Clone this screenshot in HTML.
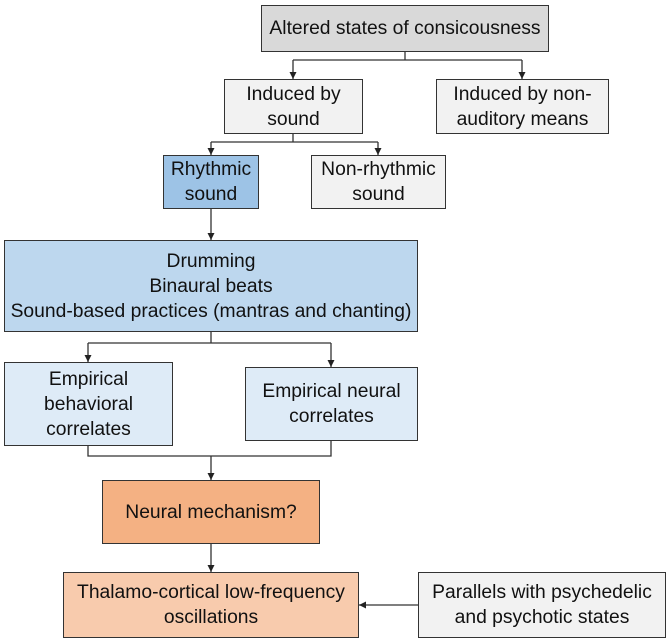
<!DOCTYPE html>
<html><head><meta charset="utf-8"><style>
body{margin:0;width:667px;height:643px;background:#fff;position:relative;overflow:hidden;font-family:"Liberation Sans",sans-serif;}
.b{position:absolute;box-sizing:border-box;border:1.5px solid #333;display:flex;align-items:center;justify-content:center;text-align:center;font-size:19.3px;line-height:25px;color:#111;white-space:nowrap;}
svg{position:absolute;left:0;top:0;}
</style></head><body>
<svg width="667" height="643">
<defs><marker id="a" markerWidth="8" markerHeight="8" refX="7" refY="4" orient="auto" markerUnits="userSpaceOnUse"><path d="M0,0.5 L7,4 L0,7.5z" fill="#222"/></marker></defs>
<g stroke="#333" stroke-width="1.3" fill="none">
<path d="M405,52V60M293,60H522"/>
<path d="M293,60V79" marker-end="url(#a)"/><path d="M522,60V79" marker-end="url(#a)"/>
<path d="M293,134V142M211,142H378"/>
<path d="M211,142V155" marker-end="url(#a)"/><path d="M378,142V155" marker-end="url(#a)"/>
<path d="M211,209V240" marker-end="url(#a)"/>
<path d="M211,332V343M88,343H331"/>
<path d="M88,343V362" marker-end="url(#a)"/><path d="M331,343V367" marker-end="url(#a)"/>
<path d="M88,446V456H331V441"/>
<path d="M211,456V480" marker-end="url(#a)"/>
<path d="M211,544V572" marker-end="url(#a)"/>
<path d="M418,605H359" marker-end="url(#a)"/>
</g></svg>
<div class="b" style="left:261px;top:5px;width:288px;height:47px;background:#d9d9d9">Altered states of consicousness</div>
<div class="b" style="left:224px;top:79px;width:139px;height:55px;background:#f2f2f2">Induced by<br>sound</div>
<div class="b" style="left:436px;top:79px;width:173px;height:55px;background:#f2f2f2">Induced by non-<br>auditory means</div>
<div class="b" style="left:163px;top:155px;width:96px;height:54px;background:#9dc3e6">Rhythmic<br>sound</div>
<div class="b" style="left:311px;top:155px;width:135px;height:54px;background:#f2f2f2">Non-rhythmic<br>sound</div>
<div class="b" style="left:4px;top:240px;width:414px;height:92px;background:#bdd7ee">Drumming<br>Binaural beats<br>Sound-based practices (mantras and chanting)</div>
<div class="b" style="left:4px;top:362px;width:169px;height:84px;background:#deebf7">Empirical<br>behavioral<br>correlates</div>
<div class="b" style="left:245px;top:367px;width:173px;height:74px;background:#deebf7">Empirical neural<br>correlates</div>
<div class="b" style="left:102px;top:480px;width:218px;height:64px;background:#f4b183">Neural mechanism?</div>
<div class="b" style="left:63px;top:572px;width:296px;height:66px;background:#f8cbad">Thalamo-cortical low-frequency<br>oscillations</div>
<div class="b" style="left:418px;top:572px;width:248px;height:66px;background:#f2f2f2">Parallels with psychedelic<br>and psychotic states</div>
</body></html>
